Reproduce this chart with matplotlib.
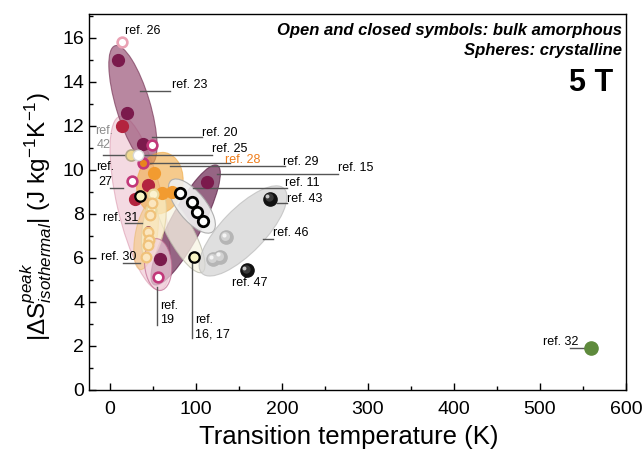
import matplotlib
matplotlib.use('Agg')
import matplotlib.pyplot as plt
import matplotlib.transforms as mtransforms
from matplotlib.patches import Ellipse

plt.rcParams['font.family'] = ['Liberation Sans', 'DejaVu Sans']
plt.rcParams['mathtext.fontset'] = 'custom'
plt.rcParams['mathtext.rm'] = 'Liberation Sans'
plt.rcParams['mathtext.it'] = 'Liberation Sans:italic'
plt.rcParams['mathtext.bf'] = 'Liberation Sans:bold'

# transition temperature (K) and |dS| peak (J/kg/K)
maroon_T = [9, 20, 38, 113, 58]
maroon_S = [15.0, 12.6, 11.2, 9.45, 5.95]
crimson_T = [14, 44, 29]
crimson_S = [12.0, 9.3, 8.7]
magenta_T = [49, 26, 56]
magenta_S = [11.15, 9.5, 5.15]
ring28_T = [38]
ring28_S = [10.3]
pink_T = [14]
pink_S = [15.8]
orange_T = [51, 60, 72]
orange_S = [9.85, 8.95, 9.0]
ref30_T = [49, 46.5, 44, 45, 44, 42]
ref30_S = [8.5, 7.95, 7.2, 6.8, 6.6, 6.05]
ref31_T = [50, 48]
ref31_S = [8.9, 8.2]
cream_T = [35, 98]
cream_S = [8.8, 6.05]
ref42_T = [24.5]
ref42_S = [10.7]
ref25_T = [32.5]
ref25_S = [10.7]
ref11_T = [81, 95, 101, 108]
ref11_S = [8.95, 8.55, 8.1, 7.7]
sph_gray_T = [135, 128, 120]
sph_gray_S = [6.95, 6.05, 5.95]
sph_black_T = [186, 159]
sph_black_S = [8.7, 5.45]
green_T = [559]
green_S = [1.9]

fig = plt.figure(figsize=(6.44, 4.53), dpi=100)
ax = fig.add_axes([89 / 644, 63 / 453, 537 / 644, 376 / 453])


def blob(cx, cy, length, width, angle, fc, ec, alpha, z=1):
    # ellipse centred in data coords, shape given in screen pixels
    tr = fig.dpi_scale_trans + mtransforms.ScaledTranslation(cx, cy, ax.transData)
    e = Ellipse((0, 0), length / 100, width / 100, angle=angle, transform=tr,
                facecolor=fc, edgecolor=ec, alpha=alpha, lw=0.8, zorder=z)
    ax.add_patch(e)


# group ellipses
blob(35, 8.5, 178, 46, 103, '#ecbccb', '#d890a8', 0.55)
blob(26.7, 12.95, 124, 34, 106.7, '#9a5478', '#7a3a5a', 0.7)
blob(88, 7.5, 135, 32, 62, '#6e2a55', '#5e2248', 0.72)
blob(81.4, 7.18, 92, 26, 119, '#f7f5e4', '#b8b8a8', 0.75)
blob(58, 9.4, 62, 46, 80, '#f0a840', '#f0a840', 0.6)
blob(42, 7.0, 68, 22, 80, '#f5c880', '#e8b870', 0.6)
blob(51, 7.5, 70, 22, 80, '#faf0c8', '#e0d0a0', 0.7)
blob(95.3, 8.36, 66, 28, 129, '#efefef', '#a8a8a8', 0.9)
blob(154.7, 7.23, 118, 44, 46, '#d5d5d5', '#bdbdbd', 0.75)
blob(56, 5.7, 52, 27, 95, '#f2d2de', '#c06890', 0.7)

mk = dict(linestyle='none', marker='o', zorder=5)
ax.plot(maroon_T, maroon_S, ms=8.5, mfc='#7b1a4c', mec='#7b1a4c', **mk)
ax.plot([44], [7.3], ms=4, mfc='#7b1a4c', mec='#7b1a4c', **mk)
ax.plot(crimson_T, crimson_S, ms=8.5, mfc='#b3243f', mec='#b3243f', **mk)
ax.plot(magenta_T, magenta_S, ms=7, mfc='white', mec='#c2387a', mew=1.9, **mk)
ax.plot(ring28_T, ring28_S, ms=7, mfc='#e8841e', mec='#c2387a', mew=1.9, **mk)
ax.plot(pink_T, pink_S, ms=7, mfc='white', mec='#eaa2b4', mew=1.9, **mk)
ax.plot(orange_T, orange_S, ms=8.5, mfc='#f29b30', mec='#f29b30', **mk)
ax.plot(ref31_T, ref31_S, ms=7, mfc='#fbf3d0', mec='#ead9a0', mew=1.6, **mk)
ax.plot(ref30_T, ref30_S, ms=7, mfc='#fbe6bf', mec='#f0c27a', mew=1.6, **mk)
ax.plot(cream_T, cream_S, ms=7.5, mfc='#f8f4c4', mec='black', mew=1.6, **mk)
ax.plot(ref42_T, ref42_S, ms=8, mfc='#efd990', mec='#b5a98a', mew=1.2, **mk)
ax.plot(ref25_T, ref25_S, ms=7.5, mfc='white', mec='#d8d8d8', mew=1.0, **mk)
ax.plot(ref11_T, ref11_S, ms=7.5, mfc='white', mec='black', mew=2.0, **mk)
ax.plot(green_T, green_S, ms=9.5, mfc='#5e8a3c', mec='#5e8a3c', **mk)

# crystalline samples drawn as shaded spheres
hl1 = mtransforms.offset_copy(ax.transData, fig=fig, x=-0.8, y=0.8, units='points')
hl2 = mtransforms.offset_copy(ax.transData, fig=fig, x=-1.8, y=1.8, units='points')
ax.plot(sph_gray_T, sph_gray_S, ms=9.5, mfc='#b5b5b5', mec='#b5b5b5', **mk)
ax.plot(sph_gray_T, sph_gray_S, ms=6.5, mfc='#d2d2d2', mec='none', transform=hl1, **mk)
ax.plot(sph_gray_T, sph_gray_S, ms=3, mfc='#f4f4f4', mec='none', transform=hl2, **mk)
ax.plot(sph_black_T, sph_black_S, ms=9.5, mfc='#111111', mec='#111111', **mk)
ax.plot(sph_black_T, sph_black_S, ms=6, mfc='#3a3a3a', mec='none', transform=hl1, **mk)
ax.plot(sph_black_T, sph_black_S, ms=2.8, mfc='#c8c8c8', mec='none', transform=hl2, **mk)

# reference labels and leader lines
lfs = 9
lc = '#555555'
leaders = [
    (34.9, 69.8, 13.6, 13.6), (48.8, 107, 11.5, 11.5), (-8, 23.3, 10.7, 10.7),
    (32.6, 118.6, 10.7, 10.7), (46.5, 139.5, 10.3, 10.3), (69.8, 203.5, 10.2, 10.2),
    (124.4, 265, 9.8, 9.8), (96.5, 205.8, 9.2, 9.2), (194, 205.8, 8.5, 8.5),
    (178, 189.5, 6.86, 6.86), (95.3, 95.3, 5.77, 2.36), (54.7, 54.7, 4.68, 2.95),
    (15.1, 34.9, 5.77, 5.77), (17.4, 37.2, 7.6, 7.6), (0, 15.1, 9.18, 9.18),
    (535, 558, 1.9, 1.9),
]
for x0, x1, y0, y1 in leaders:
    ax.plot([x0, x1], [y0, y1], color=lc, lw=1, zorder=4)

labels = [
    (17.4, 16.3, 'ref. 26', 'left', 'black'),
    (72, 13.86, 'ref. 23', 'left', 'black'),
    (107, 11.7, 'ref. 20', 'left', 'black'),
    (-7, 11.45, 'ref.\n42', 'center', '#8c8c8c'),
    (118.6, 10.95, 'ref. 25', 'left', 'black'),
    (133.7, 10.45, 'ref. 28', 'left', '#ef7d1a'),
    (201, 10.36, 'ref. 29', 'left', 'black'),
    (265, 10.1, 'ref. 15', 'left', 'black'),
    (203.5, 9.4, 'ref. 11', 'left', 'black'),
    (205.8, 8.68, 'ref. 43', 'left', 'black'),
    (189.5, 7.14, 'ref. 46', 'left', 'black'),
    (141.9, 4.86, 'ref. 47', 'left', 'black'),
    (-6, 9.8, 'ref.\n27', 'center', 'black'),
    (-10.5, 6.05, 'ref. 30', 'left', 'black'),
    (-8.1, 7.8, 'ref. 31', 'left', 'black'),
    (98.8, 2.84, 'ref.\n16, 17', 'left', 'black'),
    (58.1, 3.5, 'ref.\n19', 'left', 'black'),
    (503.5, 2.18, 'ref. 32', 'left', 'black'),
]
for x, y, s, ha, c in labels:
    ax.text(x, y, s, fontsize=lfs, ha=ha, va='center', color=c,
            linespacing=1.3, zorder=6)

ax.text(0.9926, 0.944, 'Open and closed symbols: bulk amorphous', transform=ax.transAxes,
        ha='right', va='baseline', fontsize=11.95, fontweight='bold', fontstyle='italic')
ax.text(0.9926, 0.892, 'Spheres: crystalline', transform=ax.transAxes,
        ha='right', va='baseline', fontsize=11.95, fontweight='bold', fontstyle='italic')
ax.text(0.976, 0.795, '5 T', transform=ax.transAxes, ha='right', va='baseline',
        fontsize=22, fontweight='bold')

ax.set_xlim(-24.4, 600)
ax.set_ylim(0, 17.09)
ax.set_xticks(range(0, 601, 100))
ax.set_xticks(range(-0, 601, 50), minor=True)
ax.set_yticks(range(0, 17, 2))
ax.set_yticks(range(0, 18, 1), minor=True)
ax.tick_params(which='both', direction='in', labelsize=14, width=1)
ax.tick_params(which='major', length=5)
ax.tick_params(which='minor', length=3)
ax.tick_params(axis='x', which='major', pad=8)
for sp in ax.spines.values():
    sp.set_linewidth(1)

ax.set_xlabel('Transition temperature (K)', fontsize=18.5)
ax.xaxis.set_label_coords(0.484, -0.093)
ax.set_ylabel(r'$|\Delta\mathrm{S}^{peak}_{isothermal}|$ (J kg$^{-1}$K$^{-1}$)', fontsize=17.5)
ax.yaxis.set_label_coords(-0.065, 0.46)

fig.savefig('out.png', dpi=100)
